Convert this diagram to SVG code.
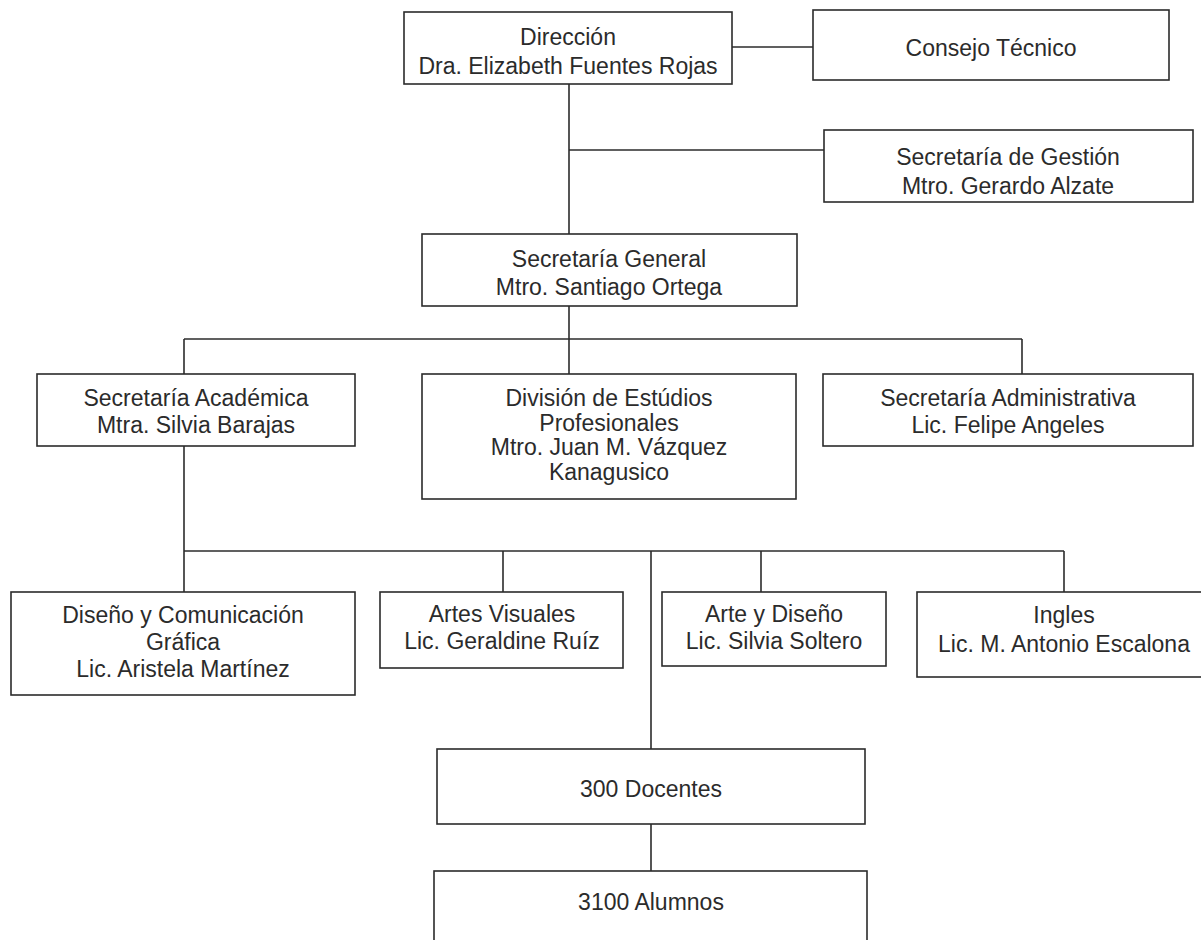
<svg xmlns="http://www.w3.org/2000/svg" width="1201" height="940" viewBox="0 0 1201 940">
<style>
.box{fill:#fff;stroke:#2b2b2b;stroke-width:1.6}
.t{font-family:"Liberation Sans",Arial,sans-serif;font-size:23px;fill:#2b2b2b;text-anchor:middle}
.c{stroke:#2b2b2b;stroke-width:1.6;fill:none}
</style>
<rect width="1201" height="940" fill="#fff"/>
<g id="connectors">
<line class="c" x1="732" y1="47" x2="813" y2="47"/>
<line class="c" x1="569" y1="84" x2="569" y2="234"/>
<line class="c" x1="569" y1="150" x2="824" y2="150"/>
<line class="c" x1="569" y1="306" x2="569" y2="374"/>
<line class="c" x1="184" y1="339" x2="1022" y2="339"/>
<line class="c" x1="184" y1="339" x2="184" y2="374"/>
<line class="c" x1="1022" y1="339" x2="1022" y2="374"/>
<line class="c" x1="184" y1="446" x2="184" y2="592"/>
<line class="c" x1="184" y1="551" x2="1064" y2="551"/>
<line class="c" x1="503" y1="551" x2="503" y2="592"/>
<line class="c" x1="761" y1="551" x2="761" y2="592"/>
<line class="c" x1="1064" y1="551" x2="1064" y2="592"/>
<line class="c" x1="651" y1="551" x2="651" y2="749"/>
<line class="c" x1="651" y1="824" x2="651" y2="871"/>
</g>
<g id="direccion"><rect class="box" x="404" y="12" width="328" height="72"/><text class="t" x="568" y="45">Dirección</text><text class="t" x="568" y="74">Dra. Elizabeth Fuentes Rojas</text></g>
<g id="consejo"><rect class="box" x="813" y="10" width="356" height="70"/><text class="t" x="991" y="56">Consejo Técnico</text></g>
<g id="gestion"><rect class="box" x="824" y="130" width="369" height="72"/><text class="t" x="1008" y="165">Secretaría de Gestión</text><text class="t" x="1008" y="194">Mtro. Gerardo Alzate</text></g>
<g id="general"><rect class="box" x="422" y="234" width="375" height="72"/><text class="t" x="609" y="267">Secretaría General</text><text class="t" x="609" y="295">Mtro. Santiago Ortega</text></g>
<g id="academica"><rect class="box" x="37" y="374" width="318" height="72"/><text class="t" x="196" y="406">Secretaría Académica</text><text class="t" x="196" y="433">Mtra. Silvia Barajas</text></g>
<g id="division"><rect class="box" x="422" y="374" width="374" height="125"/><text class="t" x="609" y="406">División de Estúdios</text><text class="t" x="609" y="431">Profesionales</text><text class="t" x="609" y="455">Mtro. Juan M. Vázquez</text><text class="t" x="609" y="480">Kanagusico</text></g>
<g id="administrativa"><rect class="box" x="823" y="374" width="370" height="72"/><text class="t" x="1008" y="406">Secretaría Administrativa</text><text class="t" x="1008" y="433">Lic. Felipe Angeles</text></g>
<g id="diseno"><rect class="box" x="11" y="592" width="344" height="103"/><text class="t" x="183" y="623">Diseño y Comunicación</text><text class="t" x="183" y="650">Gráfica</text><text class="t" x="183" y="677">Lic. Aristela Martínez</text></g>
<g id="artes"><rect class="box" x="380" y="592" width="243" height="76"/><text class="t" x="502" y="622">Artes Visuales</text><text class="t" x="502" y="649">Lic. Geraldine Ruíz</text></g>
<g id="arteydiseno"><rect class="box" x="662" y="592" width="224" height="74"/><text class="t" x="774" y="622">Arte y Diseño</text><text class="t" x="774" y="649">Lic. Silvia Soltero</text></g>
<g id="ingles"><rect class="box" x="917" y="592" width="294" height="85"/><text class="t" x="1064" y="623">Ingles</text><text class="t" x="1064" y="652">Lic. M. Antonio Escalona</text></g>
<g id="docentes"><rect class="box" x="437" y="749" width="428" height="75"/><text class="t" x="651" y="797">300 Docentes</text></g>
<g id="alumnos"><rect class="box" x="434" y="871" width="433" height="80"/><text class="t" x="651" y="910">3100 Alumnos</text></g>
</svg>
